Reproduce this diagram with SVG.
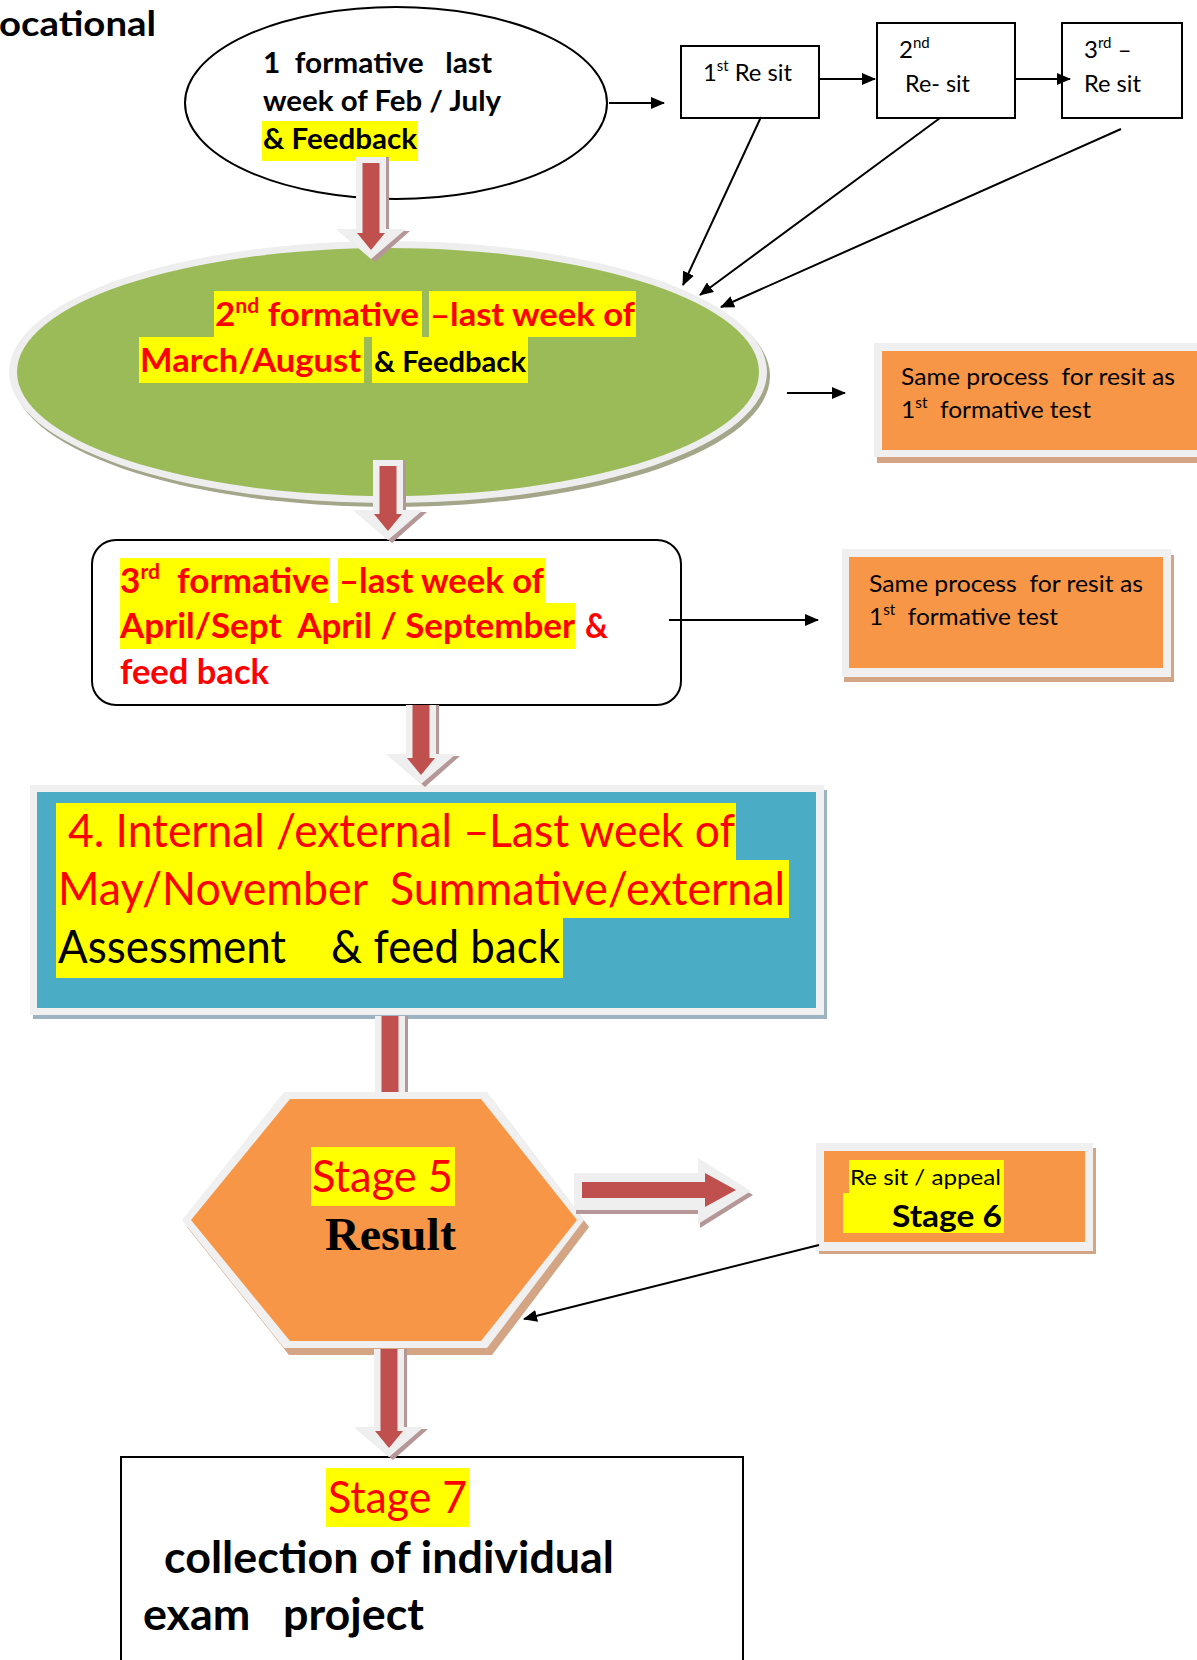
<svg xmlns="http://www.w3.org/2000/svg" width="1197" height="1660" viewBox="0 0 1197 1660">
<style>
text { font-family: Lato, 'Liberation Sans', sans-serif; white-space: pre; fill: #000; }
.bd { font-weight: 700; }
.red { fill: #FF0000; }
.hl { fill: #FFFF00; }
.thin { fill: none; stroke: #000; stroke-width: 2; marker-end: url(#tip); }
.rim { fill: #F0F0F0; }
.orange { fill: #F79646; }
.tan { fill: #D3A584; }
.box { fill: #FFFFFF; stroke: #000; stroke-width: 2; }
.bar-out { fill: #EFEFEF; }
.bar-sh { fill: #B59797; }
.bar-in { fill: #C0504D; }
.serif { font-family: 'Liberation Serif', 'DejaVu Serif', serif; }
</style>
<defs>
  <marker id="tip" markerUnits="userSpaceOnUse" markerWidth="14" markerHeight="12" refX="13" refY="6" orient="auto">
    <path d="M0,0 L14,6 L0,12 z" fill="#000"/>
  </marker>
  <!-- head of the thick downward process arrow, tip at origin -->
  <g id="dhead">
    <polygon class="bar-sh" points="-32,-28 39,-28 4,3"/>
    <polygon class="bar-out" points="-35,-30 35,-30 0,0"/>
    <polygon class="bar-in" points="-14,-26 14,-26 0,-9"/>
  </g>
</defs>

<rect x="0" y="0" width="1197" height="1660" fill="#FFFFFF"/>

<text x="-1" y="36" class="bd" font-size="35" textLength="157" lengthAdjust="spacingAndGlyphs">ocational</text>

<!-- stage 1 -->
<g id="formative1">
  <ellipse cx="396" cy="103" rx="211" ry="96" fill="#FFFFFF" stroke="#000" stroke-width="2"/>
  <rect class="hl" x="262" y="121" width="156" height="40"/>
  <text x="263" y="73" class="bd" font-size="28" textLength="229" lengthAdjust="spacingAndGlyphs">1  formative   last</text>
  <text x="263" y="111" class="bd" font-size="28" textLength="238" lengthAdjust="spacingAndGlyphs">week of Feb / July</text>
  <text x="263" y="149" class="bd" font-size="28" textLength="154" lengthAdjust="spacingAndGlyphs">&amp; Feedback</text>
</g>

<g id="resit1">
  <rect class="box" x="681" y="46" width="138" height="72"/>
  <text x="703" y="81" font-size="24" textLength="89" lengthAdjust="spacingAndGlyphs">1<tspan font-size="15" dy="-10">st</tspan><tspan dy="10"> Re sit</tspan></text>
</g>
<g id="resit2">
  <rect class="box" x="877" y="23" width="138" height="95"/>
  <text x="899" y="58" font-size="24">2<tspan font-size="15" dy="-10">nd</tspan></text>
  <text x="905" y="92" font-size="24" textLength="65" lengthAdjust="spacingAndGlyphs">Re- sit</text>
</g>
<g id="resit3">
  <rect class="box" x="1062" y="23" width="120" height="95"/>
  <text x="1084" y="58" font-size="24">3<tspan font-size="15" dy="-10">rd</tspan><tspan dy="10"> –</tspan></text>
  <text x="1084" y="92" font-size="24" textLength="57" lengthAdjust="spacingAndGlyphs">Re sit</text>
</g>

<!-- stage 2 -->
<g id="formative2">
  <ellipse cx="391" cy="376" rx="379" ry="131" fill="#A4A68A"/>
  <ellipse cx="388" cy="372" rx="379" ry="131" fill="#EEEEEE"/>
  <ellipse cx="388" cy="372" rx="371" ry="124" fill="#9BBB59"/>
  <rect class="hl" x="214" y="291" width="208" height="46"/>
  <rect class="hl" x="429" y="291" width="207" height="46"/>
  <rect class="hl" x="139" y="337" width="225" height="46"/>
  <rect class="hl" x="372" y="337" width="156" height="46"/>
  <text x="215" y="326" class="bd red" font-size="33" textLength="204" lengthAdjust="spacingAndGlyphs">2<tspan font-size="20" dy="-13">nd</tspan><tspan dy="13"> formative</tspan></text>
  <text x="430" y="326" class="bd red" font-size="33" textLength="205" lengthAdjust="spacingAndGlyphs">–last week of</text>
  <text x="140" y="372" class="bd red" font-size="33" textLength="221" lengthAdjust="spacingAndGlyphs">March/August</text>
  <text x="374" y="372" class="bd" font-size="28" textLength="152" lengthAdjust="spacingAndGlyphs">&amp; Feedback</text>
</g>

<g id="resit-note2">
  <rect class="tan" x="877" y="349" width="330" height="114"/>
  <rect class="rim" x="874" y="343" width="330" height="114"/>
  <rect class="orange" x="882" y="351" width="330" height="99"/>
  <text x="901" y="385" font-size="24" textLength="274" lengthAdjust="spacingAndGlyphs">Same process  for resit as</text>
  <text x="901" y="418" font-size="24" textLength="190" lengthAdjust="spacingAndGlyphs">1<tspan font-size="15" dy="-10">st</tspan><tspan dy="10">  formative test</tspan></text>
</g>

<!-- stage 3 -->
<g id="formative3">
  <rect class="box" x="92" y="540" width="589" height="165" rx="24"/>
  <rect class="hl" x="120" y="558" width="210" height="45"/>
  <rect class="hl" x="338" y="558" width="207" height="45"/>
  <rect class="hl" x="120" y="603" width="455" height="46"/>
  <text x="120" y="593" class="bd red" font-size="35" textLength="209" lengthAdjust="spacingAndGlyphs">3<tspan font-size="21" dy="-14">rd</tspan><tspan dy="14">  formative</tspan></text>
  <text x="339" y="593" class="bd red" font-size="35" textLength="205" lengthAdjust="spacingAndGlyphs">–last week of</text>
  <text x="120" y="638" class="bd red" font-size="35" textLength="455" lengthAdjust="spacingAndGlyphs">April/Sept  April / September</text>
  <text x="585" y="638" class="bd red" font-size="35" textLength="23" lengthAdjust="spacingAndGlyphs">&amp;</text>
  <text x="120" y="684" class="bd red" font-size="35" textLength="149" lengthAdjust="spacingAndGlyphs">feed back</text>
</g>

<g id="resit-note3">
  <rect class="tan" x="844" y="555" width="330" height="127"/>
  <rect class="rim" x="842" y="549" width="329" height="128"/>
  <rect class="orange" x="849" y="557" width="314" height="111"/>
  <text x="869" y="592" font-size="24" textLength="274" lengthAdjust="spacingAndGlyphs">Same process  for resit as</text>
  <text x="869" y="625" font-size="24" textLength="189" lengthAdjust="spacingAndGlyphs">1<tspan font-size="15" dy="-10">st</tspan><tspan dy="10">  formative test</tspan></text>
</g>

<!-- stage 4 -->
<g id="summative4">
  <rect x="33" y="790" width="794" height="229" fill="#9DB3C2"/>
  <rect class="rim" x="30" y="785" width="794" height="230"/>
  <rect x="37" y="792" width="779" height="216" fill="#4BACC6"/>
  <rect class="hl" x="56" y="803" width="680" height="57"/>
  <rect class="hl" x="56" y="860" width="733" height="58"/>
  <rect class="hl" x="56" y="918" width="507" height="60"/>
  <text x="68" y="847" class="red" font-size="46" textLength="667" lengthAdjust="spacingAndGlyphs">4. Internal /external –Last week of</text>
  <text x="58" y="905" class="red" font-size="46" textLength="727" lengthAdjust="spacingAndGlyphs">May/November  Summative/external</text>
  <text x="58" y="963" font-size="46" textLength="502" lengthAdjust="spacingAndGlyphs">Assessment    &amp; feed back</text>
</g>

<!-- stage 5 -->
<g id="result5">
  <polygon class="tan" points="289,1099 492,1099 589,1227 492,1355 289,1355 187,1227"/>
  <polygon class="rim" points="284,1092 487,1092 584,1220 487,1348 284,1348 182,1220"/>
  <polygon class="orange" points="290,1099 481,1099 577,1220 481,1341 290,1341 191,1220"/>
  <rect class="hl" x="311" y="1147" width="144" height="59"/>
  <text x="312" y="1192" class="red" font-size="44" textLength="141" lengthAdjust="spacingAndGlyphs">Stage 5</text>
  <text x="325" y="1250" class="serif bd" font-size="46" textLength="131" lengthAdjust="spacingAndGlyphs">Result</text>
</g>

<!-- stage 6 -->
<g id="appeal6">
  <rect class="tan" x="819" y="1148" width="277" height="106"/>
  <rect class="rim" x="816" y="1143" width="277" height="108"/>
  <rect class="orange" x="824" y="1151" width="261" height="91"/>
  <rect class="hl" x="849" y="1160" width="155" height="33"/>
  <rect class="hl" x="843" y="1193" width="161" height="40"/>
  <text x="850" y="1185" font-size="22" textLength="151" lengthAdjust="spacingAndGlyphs">Re sit / appeal</text>
  <text x="892" y="1227" class="bd" font-size="31" textLength="110" lengthAdjust="spacingAndGlyphs">Stage 6</text>
</g>

<!-- stage 7 -->
<g id="collection7">
  <rect class="box" x="121" y="1457" width="622" height="230"/>
  <rect class="hl" x="326" y="1468" width="143" height="59"/>
  <text x="328" y="1513" class="red" font-size="44" textLength="139" lengthAdjust="spacingAndGlyphs">Stage 7</text>
  <text x="164" y="1573" class="bd" font-size="44" textLength="450" lengthAdjust="spacingAndGlyphs">collection of individual</text>
  <text x="143" y="1630" class="bd" font-size="44" textLength="281" lengthAdjust="spacingAndGlyphs">exam   project</text>
</g>

<!-- connectors -->
<g id="connectors">
  <path class="thin" d="M609,103 H664"/>
  <path class="thin" d="M819,79 H875"/>
  <path class="thin" d="M1015,79 H1070"/>
  <path class="thin" d="M761,117 L683,285"/>
  <path class="thin" d="M940,118 L700,295"/>
  <path class="thin" d="M1121,129 L721,307"/>
  <path class="thin" d="M787,393 H845"/>
  <path class="thin" d="M669,620 H818"/>
  <path class="thin" d="M819,1245 L524,1319"/>

  <!-- 1 to 2 -->
  <g>
    <rect class="bar-sh" x="359" y="157" width="30" height="72"/>
    <rect class="bar-out" x="356" y="157" width="30" height="72"/>
    <use href="#dhead" x="371" y="259"/>
    <rect class="bar-in" x="362.5" y="163" width="17" height="71"/>
  </g>
  <!-- 2 to 3 -->
  <g>
    <rect class="bar-sh" x="376" y="460" width="30" height="50"/>
    <rect class="bar-out" x="373" y="460" width="30" height="50"/>
    <use href="#dhead" x="388" y="540"/>
    <rect class="bar-in" x="379.5" y="466" width="17" height="49"/>
  </g>
  <!-- 3 to 4 -->
  <g>
    <rect class="bar-sh" x="409" y="705" width="30" height="49"/>
    <rect class="bar-out" x="406" y="705" width="30" height="49"/>
    <use href="#dhead" x="421" y="784"/>
    <rect class="bar-in" x="412.5" y="705" width="17" height="53"/>
  </g>
  <!-- 4 to 5 -->
  <g>
    <rect class="bar-sh" x="378" y="1016" width="30" height="76"/>
    <rect class="bar-out" x="375" y="1016" width="30" height="76"/>
    <rect class="bar-in" x="381.5" y="1016" width="17" height="76"/>
  </g>
  <!-- 5 to 7 -->
  <g>
    <rect class="bar-sh" x="377" y="1349" width="30" height="78"/>
    <rect class="bar-out" x="374" y="1349" width="30" height="78"/>
    <use href="#dhead" x="389" y="1457"/>
    <rect class="bar-in" x="380.5" y="1349" width="17" height="83"/>
  </g>
  <!-- 5 to 6 -->
  <g>
    <path class="bar-sh" d="M576,1177 H700 V1162 L753,1195 L700,1228 V1214 H576 Z"/>
    <path class="bar-out" d="M574,1173 H698 V1158 L751,1191 L698,1224 V1210 H574 Z"/>
    <path class="bar-in" d="M582,1182 H705 V1173 L736,1190 L705,1207 V1198 H582 Z"/>
  </g>
</g>
</svg>
